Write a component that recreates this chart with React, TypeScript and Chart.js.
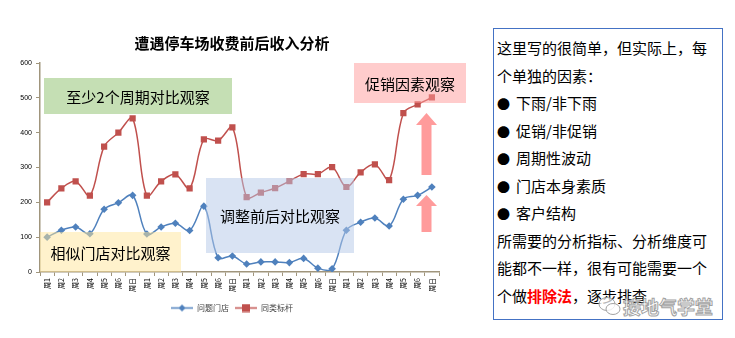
import React, { useEffect, useRef } from 'react';
import { Chart, registerables } from 'chart.js';

Chart.register(...registerables);

const categories = [
  '周1', '周2', '周3', '周4', '周5', '周6', '周日',
  '周1', '周2', '周3', '周4', '周5', '周6', '周日',
  '周1', '周2', '周3', '周4', '周5', '周6', '周日',
  '周1', '周2', '周3', '周4', '周5', '周6', '周日',
];
const problemStore = [100, 120, 129, 110, 180, 199, 220, 109, 129, 140, 119, 189, 41, 46, 23, 29, 29, 27, 39, 11, 9, 120, 143, 155, 132, 209, 220, 244];
const benchmark = [200, 240, 260, 219, 360, 400, 441, 219, 260, 280, 240, 381, 377, 415, 215, 228, 241, 261, 281, 281, 301, 244, 286, 309, 264, 456, 481, 501];
const seriesNames = ['问题门店', '同类标杆'];
const yTicks = [0, 100, 200, 300, 400, 500, 600];
const title = '遭遇停车场收费前后收入分析';

const BLUE = '#4F81BD';
const RED = '#C0504D';
const AXIS = '#A0957C';
const FONT = '"Noto Sans CJK SC", "Noto Sans", sans-serif';

function makeIcon(color: string, shape: 'diamond' | 'square'): HTMLCanvasElement {
  const c = document.createElement('canvas');
  c.width = 22;
  c.height = 9;
  const g = c.getContext('2d')!;
  g.strokeStyle = color;
  g.lineWidth = 1.5;
  g.beginPath();
  g.moveTo(0, 4.5);
  g.lineTo(22, 4.5);
  g.stroke();
  g.fillStyle = color;
  if (shape === 'diamond') {
    g.beginPath();
    g.moveTo(11, 1);
    g.lineTo(14.5, 4.5);
    g.lineTo(11, 8);
    g.lineTo(7.5, 4.5);
    g.closePath();
    g.fill();
  } else {
    g.fillRect(7, 0.5, 8, 8);
  }
  return c;
}

function ChartPanel() {
  const ref = useRef<HTMLCanvasElement | null>(null);
  useEffect(() => {
    if (!ref.current) return;
    const icons = [makeIcon(BLUE, 'diamond'), makeIcon(RED, 'square')];
    const chart = new Chart(ref.current, {
      type: 'line',
      data: {
        labels: categories,
        datasets: [
          {
            label: seriesNames[0],
            data: problemStore,
            borderColor: BLUE,
            backgroundColor: BLUE,
            borderWidth: 1.5,
            pointStyle: 'rectRot',
            pointRadius: 3.8,
            pointBorderWidth: 0,
            tension: 0.35,
          },
          {
            label: seriesNames[1],
            data: benchmark,
            borderColor: RED,
            backgroundColor: RED,
            borderWidth: 1.5,
            pointStyle: 'rect',
            pointRadius: 4.4,
            pointBorderWidth: 0,
            tension: 0.35,
          },
        ],
      },
      options: {
        responsive: false,
        animation: false,
        layout: { padding: { left: 0, right: 16, top: 0, bottom: 16 } },
        plugins: {
          title: {
            display: true,
            text: title,
            color: '#000',
            font: { family: FONT, size: 15, weight: 'bold', lineHeight: 1.2 },
            padding: { top: 34, bottom: 11 },
          },
          legend: {
            position: 'bottom',
            labels: {
              usePointStyle: true,
              pointStyleWidth: 22,
              boxHeight: 8,
              padding: 6,
              color: '#404040',
              font: { family: FONT, size: 8 },
              generateLabels: (ch: any) =>
                ch.data.datasets.map((ds: any, i: number) => ({
                  text: ds.label,
                  pointStyle: icons[i],
                  fillStyle: ds.borderColor,
                  strokeStyle: ds.borderColor,
                  lineWidth: 0,
                  hidden: false,
                  datasetIndex: i,
                  fontColor: '#404040',
                })),
            },
          },
          tooltip: { enabled: false },
        },
        scales: {
          x: {
            type: 'category',
            offset: true,
            grid: { offset: true, drawOnChartArea: false, drawTicks: true, tickLength: 4, color: AXIS },
            border: { color: AXIS, width: 1.5 },
            ticks: {
              autoSkip: false,
              minRotation: 90,
              maxRotation: 90,
              padding: 2,
              color: '#000',
              font: { family: FONT, size: 7 },
            },
            afterFit: (s: any) => { s.height = 26; },
          },
          y: {
            min: 0,
            max: 600,
            afterBuildTicks: (s: any) => { s.ticks = yTicks.map((v) => ({ value: v })); },
            grid: { drawOnChartArea: false, drawTicks: true, tickLength: 4, color: AXIS },
            border: { color: AXIS, width: 1.5 },
            ticks: {
              padding: 4,
              color: '#000',
              font: { family: 'Arial, "Liberation Sans", sans-serif', size: 7 },
            },
            afterFit: (s: any) => { s.width = 40; },
          },
          spacer: {
            type: 'linear',
            position: 'right',
            grid: { display: false },
            border: { display: false },
            ticks: { display: false },
            afterFit: (s: any) => { s.width = 25; },
          },
        },
      },
    });
    return () => chart.destroy();
  }, []);
  return <canvas ref={ref} width={480} height={338} style={{ position: 'absolute', left: 0, top: 0 }} />;
}

const boxText: React.CSSProperties = {
  position: 'absolute',
  display: 'flex',
  alignItems: 'center',
  justifyContent: 'center',
  fontFamily: FONT,
  fontSize: 15,
  color: '#000',
  whiteSpace: 'nowrap',
};

function Arrow({ left, top, height, headH }: { left: number; top: number; height: number; headH: number }) {
  const w = 21;
  return (
    <svg style={{ position: 'absolute', left, top }} width={w} height={height}>
      <polygon
        points={`${w / 2},0 ${w},${headH} ${15.5},${headH} ${15.5},${height} ${5.5},${height} ${5.5},${headH} 0,${headH}`}
        fill="#FF9B9B"
      />
    </svg>
  );
}

const lineStyle: React.CSSProperties = { height: 27.5, lineHeight: '27.5px', whiteSpace: 'nowrap' };

function Bullet({ text }: { text: string }) {
  return (
    <div style={lineStyle}>
      <span style={{ display: 'inline-block', width: 19, fontSize: 13 }}>●</span>
      {text}
    </div>
  );
}

export default function App() {
  return (
    <div style={{ position: 'absolute', left: 0, top: 0, width: 735, height: 338, background: '#fff', overflow: 'hidden' }}>
      <ChartPanel />
      <div style={{ ...boxText, left: 44, top: 78, width: 188, height: 36, background: 'rgba(139,191,105,0.5)' }}>至少2个周期对比观察</div>
      <div style={{ ...boxText, left: 40, top: 232, width: 141, height: 40, background: 'rgba(255,230,153,0.5)' }}>相似门店对比观察</div>
      <div style={{ ...boxText, left: 206, top: 178, width: 148, height: 75, background: 'rgba(180,199,231,0.5)' }}>调整前后对比观察</div>
      <div style={{ ...boxText, left: 354, top: 63, width: 112, height: 40, background: 'rgba(255,153,153,0.5)' }}>促销因素观察</div>
      <Arrow left={416} top={113} height={62} headH={12} />
      <Arrow left={416} top={195} height={37} headH={11} />
      <div
        style={{
          position: 'absolute',
          left: 493,
          top: 28,
          width: 225,
          height: 285,
          border: '1px solid #4472C4',
          padding: '5px 0 0 3px',
          boxSizing: 'content-box',
          fontFamily: FONT,
          fontSize: 15,
          color: '#000',
        }}
      >
        <div style={lineStyle}>这里写的很简单，但实际上，每</div>
        <div style={lineStyle}>个单独的因素：</div>
        <Bullet text="下雨/非下雨" />
        <Bullet text="促销/非促销" />
        <Bullet text="周期性波动" />
        <Bullet text="门店本身素质" />
        <Bullet text="客户结构" />
        <div style={lineStyle}>所需要的分析指标、分析维度可</div>
        <div style={lineStyle}>能都不一样，很有可能需要一个</div>
        <div style={lineStyle}>
          个做<span style={{ color: '#FF0000', fontWeight: 'bold' }}>排除法</span>，逐步排查
        </div>
      </div>
      <div style={{ position: 'absolute', left: 597, top: 293, display: 'flex', alignItems: 'center', opacity: 0.9 }}>
        <svg width={26} height={22}>
          <ellipse cx={10} cy={9} rx={8} ry={6.5} fill="rgba(255,255,255,0.8)" stroke="#999" strokeWidth={1} />
          <ellipse cx={16} cy={14} rx={7} ry={5.5} fill="rgba(255,255,255,0.8)" stroke="#999" strokeWidth={1} />
        </svg>
        <span
          style={{
            fontFamily: FONT,
            fontSize: 18,
            fontWeight: 'bold',
            color: '#fff',
            WebkitTextStroke: '1px #999',
            marginLeft: 0,
          }}
        >
          接地气学堂
        </span>
      </div>
    </div>
  );
}
